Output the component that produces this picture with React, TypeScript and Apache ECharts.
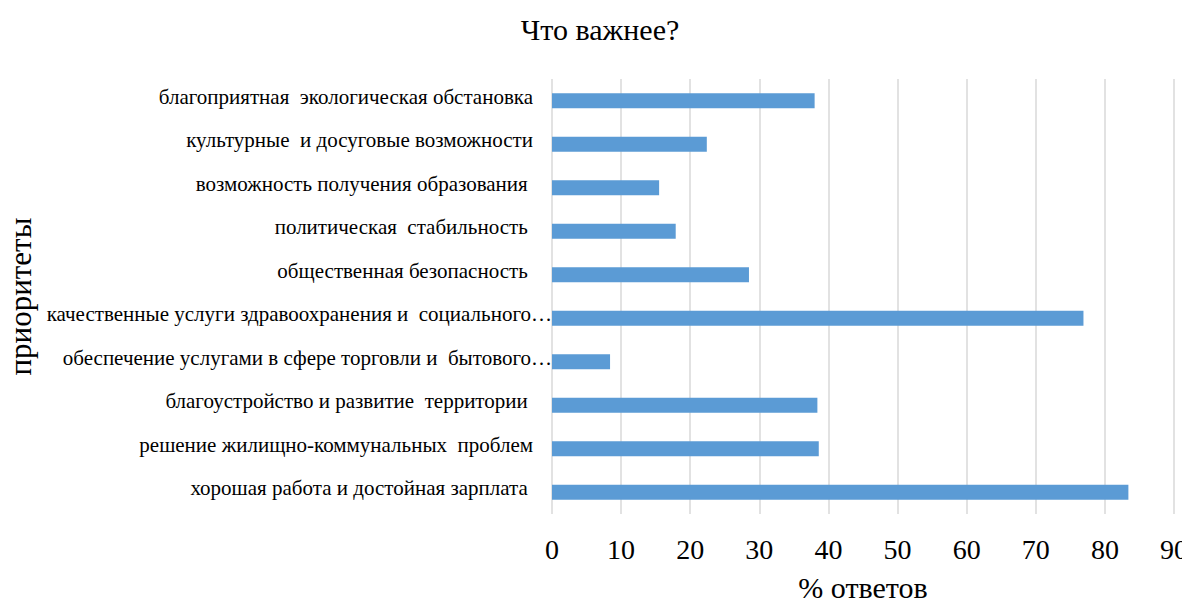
import React, { useEffect, useRef } from "react";
import * as echarts from "echarts";

const categories = [
  "благоприятная  экологическая обстановка",
  "культурные  и досуговые возможности",
  "возможность получения образования ",
  "политическая  стабильность ",
  "общественная безопасность ",
  "качественные услуги здравоохранения и  социального…",
  "обеспечение услугами в сфере торговли и  бытового…",
  "благоустройство и развитие  территории ",
  "решение жилищно-коммунальных  проблем",
  "хорошая работа и достойная зарплата ",
];
const values = [38.0, 22.4, 15.5, 17.9, 28.5, 76.9, 8.4, 38.4, 38.6, 83.4];
const xTicks = { min: 0, max: 90, interval: 10 };

const FONT = "'Liberation Serif', 'Times New Roman', serif";

export default function App() {
  const ref = useRef<HTMLDivElement>(null);
  useEffect(() => {
    if (!ref.current) return;
    const chart = echarts.init(ref.current, undefined, { renderer: "svg" });
    chart.setOption({
      animation: false,
      backgroundColor: "#ffffff",
      title: {
        text: "Что важнее?",
        left: 595,
        textAlign: "center",
        top: 9,
        textStyle: { fontFamily: FONT, fontSize: 30, fontWeight: "normal", color: "#000" },
      },
      grid: {
        left: 552,
        right: 16,
        top: 79,
        bottom: 94,
        containLabel: false,
        outerBoundsMode: "none",
      },
      xAxis: {
        type: "value",
        min: xTicks.min,
        max: xTicks.max,
        interval: xTicks.interval,
        name: "% ответов",
        nameLocation: "middle",
        nameGap: 58,
        nameMoveOverlap: false,
        nameTextStyle: { fontFamily: FONT, fontSize: 30, color: "#000" },
        axisLine: { show: false },
        axisTick: { show: false },
        axisLabel: { fontFamily: FONT, fontSize: 28, color: "#000", margin: 21 },
        splitLine: { show: true, lineStyle: { color: "#d9d9d9", width: 1.5 } },
      },
      yAxis: {
        type: "category",
        data: categories,
        inverse: true,
        name: "приоритеты",
        nameLocation: "middle",
        nameGap: 516,
        nameMoveOverlap: false,
        nameRotate: 90,
        nameTextStyle: { fontFamily: FONT, fontSize: 31, color: "#000" },
        axisLine: { show: false },
        axisTick: { show: false },
        axisLabel: {
          fontFamily: FONT,
          fontSize: 21,
          color: "#000",
          margin: 0,
          formatter: (v: string) => (v.endsWith("…") ? `{b|${v}}` : `{a|${v}}`),
          rich: {
            a: { fontFamily: FONT, fontSize: 21, color: "#000", padding: [0, 19, 8, 0] },
            b: { fontFamily: FONT, fontSize: 21, color: "#000", padding: [0, 0, 8, 0] },
          },
        },
        splitLine: { show: false },
      },
      series: [
        {
          type: "bar",
          data: values,
          barWidth: 15,
          itemStyle: { color: "#5B9BD5" },
        },
      ],
    });
    return () => chart.dispose();
  }, []);
  return <div ref={ref} style={{ width: 1190, height: 608, margin: -8 }} />;
}
